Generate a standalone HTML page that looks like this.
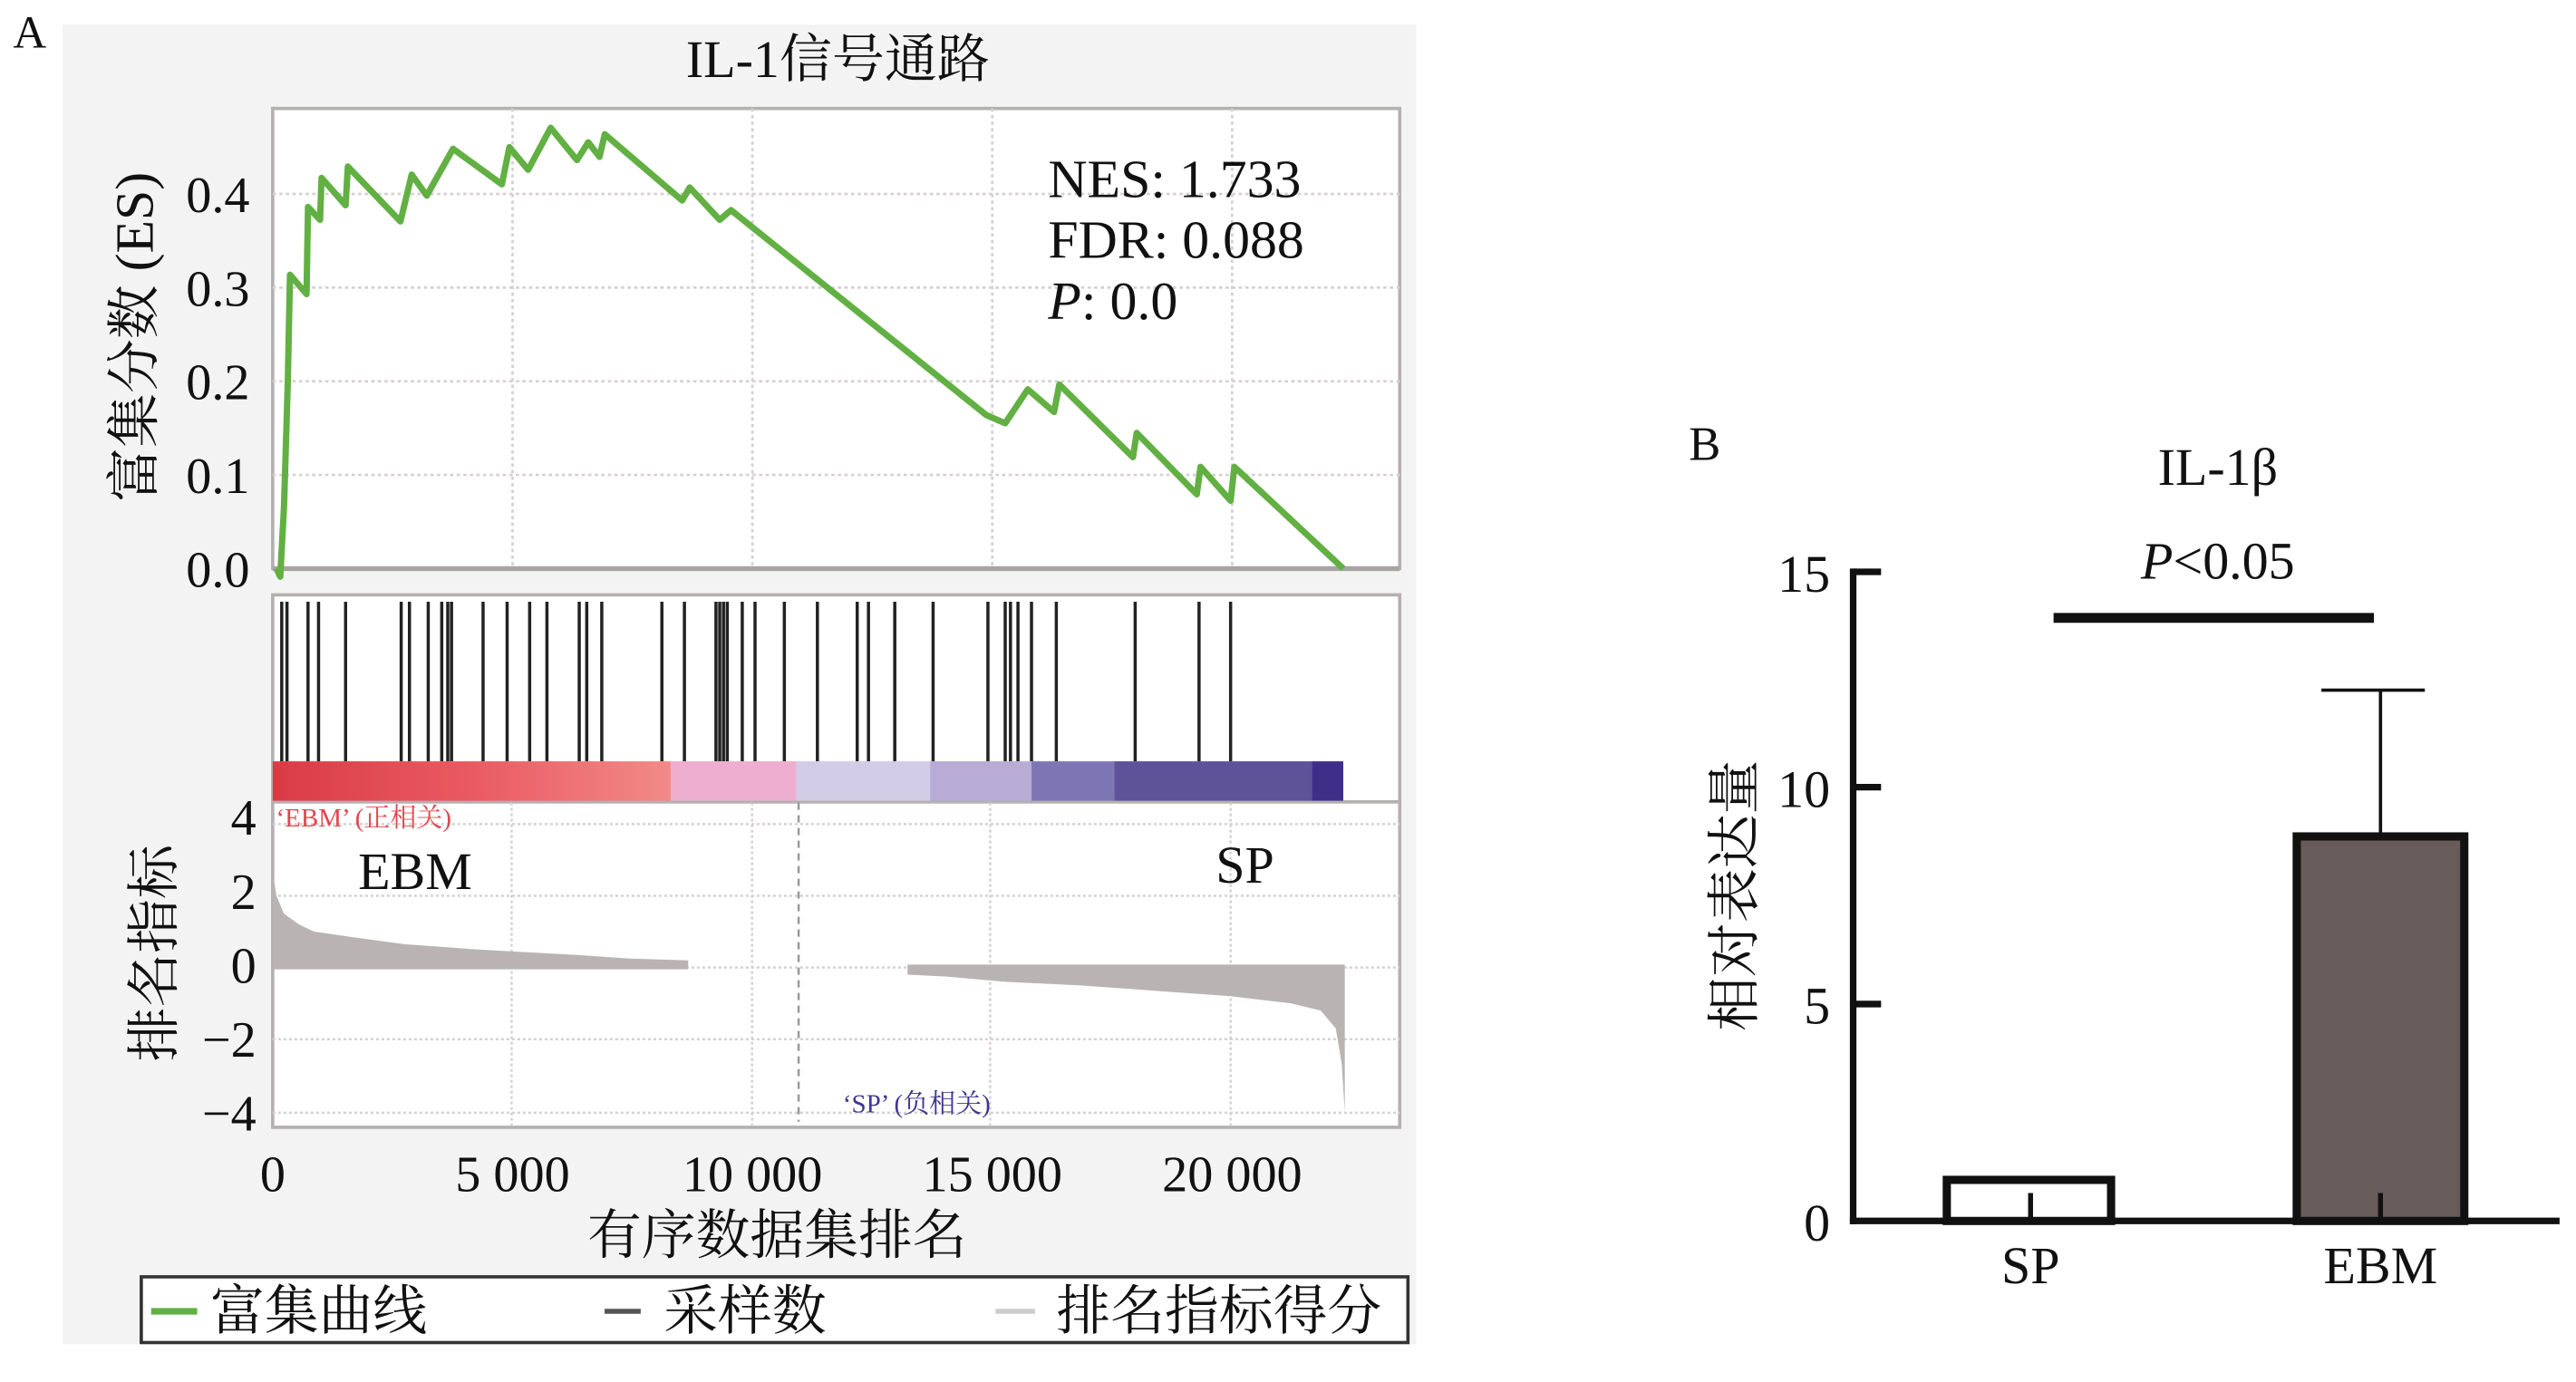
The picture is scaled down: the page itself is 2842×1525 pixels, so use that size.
<!DOCTYPE html>
<html><head><meta charset="utf-8"><style>html,body{margin:0;padding:0;background:#fff}svg{display:block}text{font-family:"Liberation Serif","Noto Serif CJK SC","Noto Sans CJK SC",serif;fill:#111}</style></head>
<body>
<svg width="2842" height="1525" viewBox="0 0 1568 841" preserveAspectRatio="none" xmlns="http://www.w3.org/2000/svg">
<rect x="0" y="0" width="1568" height="841" fill="#fff"/>
<rect x="38" y="15" width="824" height="803" fill="#f4f3f3"/>
<text x="8" y="29" font-size="28">A</text>
<text x="510" y="47" font-size="32" text-anchor="middle">IL-1信号通路</text>
<rect x="166" y="66" width="686" height="280" fill="#fff" stroke="#b5b0b0" stroke-width="2"/>
<rect x="166" y="362" width="686" height="126" fill="#fff" stroke="#b5b0b0" stroke-width="2"/>
<rect x="166" y="488" width="686" height="198" fill="#fff" stroke="#b5b0b0" stroke-width="2"/>
<g stroke="#d6d0d0" stroke-width="1.5" stroke-dasharray="2,2">
<line x1="166" x2="852" y1="118" y2="118"/><line x1="166" x2="852" y1="175" y2="175"/><line x1="166" x2="852" y1="232" y2="232"/><line x1="166" x2="852" y1="289" y2="289"/>
<line x1="312" x2="312" y1="66" y2="346"/><line x1="458" x2="458" y1="66" y2="346"/><line x1="604" x2="604" y1="66" y2="346"/><line x1="750" x2="750" y1="66" y2="346"/>
</g>
<line x1="166" x2="852" y1="346" y2="346" stroke="#a9a4a4" stroke-width="3"/>
<g transform="translate(154.57,57.14) scale(0.4573,0.1965)">
<polyline fill="none" stroke="#62b043" stroke-width="7" vector-effect="non-scaling-stroke" stroke-linejoin="round" points="30,1470 35,1495 40,1280 45,900 48,560 70,620 72,350 88,390 90,260 122,345 125,225 195,395 210,250 230,315 265,170 330,280 340,165 365,235 395,105 430,205 445,150 460,195 467,125 570,330 580,290 620,390 635,360 975,995 1000,1020 1030,915 1065,985 1072,900 1170,1125 1175,1050 1255,1240 1260,1155 1300,1260 1305,1155 1450,1470"/>
</g>
<text x="638" y="120" font-size="33">NES: 1.733</text>
<text x="638" y="157" font-size="33">FDR: 0.088</text>
<text x="638" y="194" font-size="33"><tspan font-style="italic">P</tspan>: 0.0</text>
<g font-size="31" text-anchor="end">
<text x="152" y="129">0.4</text><text x="152" y="186">0.3</text><text x="152" y="243">0.2</text><text x="152" y="300">0.1</text><text x="152" y="357">0.0</text>
</g>
<text transform="translate(93,205) rotate(-90)" font-size="33" text-anchor="middle">富集分数 (ES)</text>
<g transform="translate(154.57,353.1) scale(0.4573,0.2182)">
<path vector-effect="non-scaling-stroke" stroke="#222" stroke-width="3.5" d="M37 60V505M44 60V505M72 60V505M86 60V505M122 60V505M196 60V505M207 60V505M232 60V505M250 60V505M258 60V505M263 60V505M305 60V505M337 60V505M367 60V505M390 60V505M433 60V505M443 60V505M463 60V505M543 60V505M573 60V505M615 60V505M620 60V505M625 60V505M630 60V505M650 60V505M667 60V505M706 60V505M750 60V505M803 60V505M818 60V505M853 60V505M904 60V505M977 60V505M1000 60V505M1007 60V505M1017 60V505M1035 60V505M1068 60V505M1173 60V505M1258 60V505M1300 60V505"/>
<defs><linearGradient id="rg" x1="0" x2="1"><stop offset="0" stop-color="#d93b46"/><stop offset="0.5" stop-color="#ea5a62"/><stop offset="1" stop-color="#f28a88"/></linearGradient></defs>
<rect x="25" y="505" width="530" height="110" fill="url(#rg)"/>
<rect x="555" y="505" width="167" height="110" fill="#eeaed0"/>
<rect x="722" y="505" width="178" height="110" fill="#d2cce6"/>
<rect x="900" y="505" width="135" height="110" fill="#b8acd6"/>
<rect x="1035" y="505" width="110" height="110" fill="#7e76b4"/>
<rect x="1145" y="505" width="263" height="110" fill="#5e5298"/>
<rect x="1408" y="505" width="42" height="110" fill="#3f2f88"/>
<g stroke="#d6d0d0" stroke-width="2.5" stroke-dasharray="3,3" fill="none">
<path vector-effect="non-scaling-stroke" d="M25 680H1525M25 880H1525M25 1080H1525M25 1280H1525M25 1485H1525"/>
<path vector-effect="non-scaling-stroke" d="M343 620V1520M663 620V1520M980 620V1520M1300 620V1520"/>
</g>
<path d="M725 620V1510" stroke="#999" stroke-width="2.5" stroke-dasharray="8,6" vector-effect="non-scaling-stroke"/>
<polygon fill="#b9b3b3" points="25,1085 25,815 30,880 40,930 60,960 80,980 130,995 200,1015 300,1030 430,1045 500,1055 578,1060 578,1085"/>
<polygon fill="#b9b3b3" points="870,1072 870,1100 920,1105 1000,1120 1100,1130 1200,1145 1300,1160 1380,1180 1420,1200 1440,1250 1448,1350 1452,1485 1452,1072"/>
</g>
<text x="168" y="503" font-size="16" style="fill:#e0474f">‘EBM’ (正相关)</text>
<text x="513" y="677" font-size="16" style="fill:#3d3690">‘SP’ (负相关)</text>
<text x="218" y="541" font-size="32">EBM</text>
<text x="740" y="537" font-size="32">SP</text>
<g font-size="31" text-anchor="end">
<text x="156" y="508">4</text><text x="156" y="553">2</text><text x="156" y="598">0</text><text x="156" y="643">−2</text><text x="156" y="688">−4</text>
</g>
<text transform="translate(105,580) rotate(-90)" font-size="33" text-anchor="middle">排名指标</text>
<g font-size="31" text-anchor="middle">
<text x="166" y="725">0</text><text x="312" y="725">5 000</text><text x="458" y="725">10 000</text><text x="604" y="725">15 000</text><text x="750" y="725">20 000</text>
</g>
<text x="473" y="763" font-size="33" text-anchor="middle">有序数据集排名</text>
<rect x="86" y="777" width="771" height="40" fill="#fff" stroke="#333" stroke-width="2"/>
<line x1="92" x2="120" y1="798" y2="798" stroke="#62b043" stroke-width="4"/>
<text x="128" y="809" font-size="33">富集曲线</text>
<line x1="368" x2="390" y1="798" y2="798" stroke="#555" stroke-width="3"/>
<text x="404" y="809" font-size="33">采样数</text>
<line x1="606" x2="630" y1="798" y2="798" stroke="#ccc" stroke-width="3"/>
<text x="643" y="809" font-size="33">排名指标得分</text>
<text x="1028" y="280" font-size="29">B</text>
<text x="1350" y="295" font-size="32" text-anchor="middle">IL-1β</text>
<text x="1350" y="352" font-size="32" text-anchor="middle"><tspan font-style="italic">P</tspan>&lt;0.05</text>
<line x1="1250" x2="1445" y1="376" y2="376" stroke="#111" stroke-width="6"/>
<line x1="1128" x2="1128" y1="346" y2="745" stroke="#111" stroke-width="4"/>
<line x1="1126" x2="1558" y1="743" y2="743" stroke="#111" stroke-width="4"/>
<g stroke="#111" stroke-width="4"><line x1="1128" x2="1145" y1="348" y2="348"/><line x1="1128" x2="1145" y1="479" y2="479"/><line x1="1128" x2="1145" y1="611" y2="611"/></g>
<g font-size="32" text-anchor="end"><text x="1114" y="360">15</text><text x="1114" y="491">10</text><text x="1114" y="623">5</text><text x="1114" y="755">0</text></g>
<text transform="translate(1067,545) rotate(-90)" font-size="33" text-anchor="middle">相对表达量</text>
<rect x="1185" y="718" width="100" height="25" fill="#fff" stroke="#111" stroke-width="5"/>
<line x1="1449" x2="1449" y1="509" y2="420" stroke="#111" stroke-width="2"/>
<line x1="1413" x2="1476" y1="420" y2="420" stroke="#111" stroke-width="2"/>
<rect x="1398" y="509" width="102" height="234" fill="#675c59" stroke="#111" stroke-width="5"/>
<line x1="1236" x2="1236" y1="726" y2="743" stroke="#111" stroke-width="3"/>
<line x1="1449" x2="1449" y1="726" y2="743" stroke="#111" stroke-width="3"/>
<text x="1236" y="781" font-size="32" text-anchor="middle">SP</text>
<text x="1449" y="781" font-size="32" text-anchor="middle">EBM</text>
</svg>
</body></html>
